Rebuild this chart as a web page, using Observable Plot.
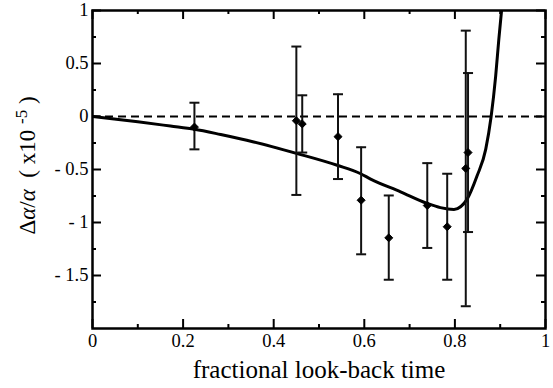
<!DOCTYPE html>
<html>
<head>
<meta charset="utf-8">
<script src="https://cdn.jsdelivr.net/npm/d3@7"></script>
<script src="https://cdn.jsdelivr.net/npm/@observablehq/plot@0.6"></script>
<style>
  html, body { margin: 0; padding: 0; background: #fff; }
</style>
</head>
<body>
<div id="chart"></div>
<script>
// Measurements (fractional look-back time, Δα/α ×10^-5)
const pointX   = [0.225, 0.450, 0.463, 0.542, 0.593, 0.654, 0.739, 0.783, 0.824, 0.829];
const pointY   = [-0.10, -0.04, -0.07, -0.19, -0.79, -1.145, -0.84, -1.04, -0.49, -0.34];
const errTop   = [0.13, 0.66, 0.20, 0.21, -0.29, -0.745, -0.44, -0.54, 0.81, 0.41];
const errBot   = [-0.31, -0.74, -0.34, -0.59, -1.30, -1.54, -1.24, -1.54, -1.79, -1.09];

// Model curve
const curveX = [0, 0.10, 0.172, 0.225, 0.283, 0.356, 0.452, 0.540, 0.592, 0.614, 0.680, 0.739, 0.768, 0.798, 0.827, 0.849, 0.868, 0.880, 0.890, 0.897, 0.903];
const curveY = [0, -0.05, -0.09, -0.12, -0.17, -0.24, -0.35, -0.46, -0.54, -0.59, -0.71, -0.82, -0.86, -0.877, -0.78, -0.56, -0.31, 0, 0.38, 0.73, 1.0];

// Ticks
const xMajor = [0, 0.2, 0.4, 0.6, 0.8, 1];
const xMinor = [0.1, 0.3, 0.5, 0.7, 0.9];
const yMajor = [1, 0.5, 0, -0.5, -1, -1.5];
const yMinor = [0.75, 0.25, -0.25, -0.75, -1.25, -1.75];

const xLabel = "fractional look-back time";
const yLabel = "Δα/α  ( x10 -5 )";

const points = pointX.map((x, i) => ({x, y: pointY[i], top: errTop[i], bot: errBot[i]}));
const curve = curveX.map((x, i) => ({x, y: curveY[i]}));

const W = 553, H = 388;
const mL = 92, mR = 8, mT = 10, mB = 60;
const iw = W - mL - mR, ih = H - mT - mB;
const SERIF = "Liberation Serif, Times New Roman, serif";

const capSymbol = {
  draw(context, size) {
    const w = Math.sqrt(size / Math.PI);
    context.moveTo(-w, 0);
    context.lineTo(w, 0);
  }
};

const fmtY = d => d < 0 ? "- " + Math.abs(d) : String(d);

const chart = Plot.plot({
  width: W,
  height: H,
  marginLeft: mL,
  marginRight: mR,
  marginTop: mT,
  marginBottom: mB,
  style: {background: "#fff", color: "#000", fontFamily: SERIF},
  x: {domain: [0, 1]},
  y: {domain: [-2, 1]},
  marks: [
    Plot.ruleY([0], {stroke: "#000", strokeWidth: 2, strokeDasharray: "8,5"}),
    Plot.line(curve, {x: "x", y: "y", curve: "monotone-x", stroke: "#000", strokeWidth: 3, clip: true}),
    Plot.ruleX(points, {x: "x", y1: "bot", y2: "top", stroke: "#111", strokeWidth: 2}),
    Plot.dot(points, {x: "x", y: "top", symbol: capSymbol, r: 5, stroke: "#111", strokeWidth: 2, fill: "none"}),
    Plot.dot(points, {x: "x", y: "bot", symbol: capSymbol, r: 5, stroke: "#111", strokeWidth: 2, fill: "none"}),
    Plot.dot(points, {x: "x", y: "y", symbol: "diamond2", r: 3.6, fill: "#000", stroke: "#000", strokeWidth: 1}),
    Plot.tickX(xMajor, {x: d => d, insetTop: ih - 9, stroke: "#000", strokeWidth: 2}),
    Plot.tickX(xMinor, {x: d => d, insetTop: ih - 4, stroke: "#000", strokeWidth: 2}),
    Plot.tickX(xMajor, {x: d => d, insetBottom: ih - 9, stroke: "#000", strokeWidth: 2}),
    Plot.tickX(xMinor, {x: d => d, insetBottom: ih - 4, stroke: "#000", strokeWidth: 2}),
    Plot.tickY(yMajor, {y: d => d, insetRight: iw - 9, stroke: "#000", strokeWidth: 2}),
    Plot.tickY(yMinor, {y: d => d, insetRight: iw - 4, stroke: "#000", strokeWidth: 2}),
    Plot.tickY(yMajor, {y: d => d, insetLeft: iw - 9, stroke: "#000", strokeWidth: 2}),
    Plot.tickY(yMinor, {y: d => d, insetLeft: iw - 4, stroke: "#000", strokeWidth: 2}),
    Plot.frame({stroke: "#000", strokeWidth: 2.5}),
    Plot.axisX(xMajor, {tickSize: 0, tickPadding: 5, tickFormat: d => String(d), fontSize: 18.5, fontFamily: SERIF, fill: "#000", label: null}),
    Plot.axisY(yMajor, {tickSize: 0, tickPadding: 4, tickFormat: fmtY, fontSize: 18.5, fontFamily: SERIF, fill: "#000", label: null}),
    Plot.text([xLabel], {text: d => d, frameAnchor: "bottom", lineAnchor: "bottom", dy: 49, fontSize: 25, fontFamily: SERIF, fill: "#000"}),
    Plot.text([yLabel], {text: d => d, frameAnchor: "left", textAnchor: "start", lineAnchor: "middle", dx: -65, dy: 65, rotate: -90, fontSize: 23, fontFamily: SERIF, fill: "#000"})
  ]
});

// rich y label (italic alpha, superscript exponent)
d3.select(chart).selectAll("text").filter(function() { return this.textContent === yLabel; })
  .each(function() {
    const t = d3.select(this);
    t.text(null);
    t.append("tspan").text("Δ");
    t.append("tspan").attr("font-style", "italic").text("α");
    t.append("tspan").text("/");
    t.append("tspan").attr("font-style", "italic").text("α");
    t.append("tspan").text("\u00a0\u00a0( x10 ");
    t.append("tspan").attr("font-size", 17).attr("dy", "-0.45em").text("-5");
    t.append("tspan").attr("dy", "0.32em").text(" )");
  });

document.getElementById("chart").appendChild(chart);
</script>
</body>
</html>
